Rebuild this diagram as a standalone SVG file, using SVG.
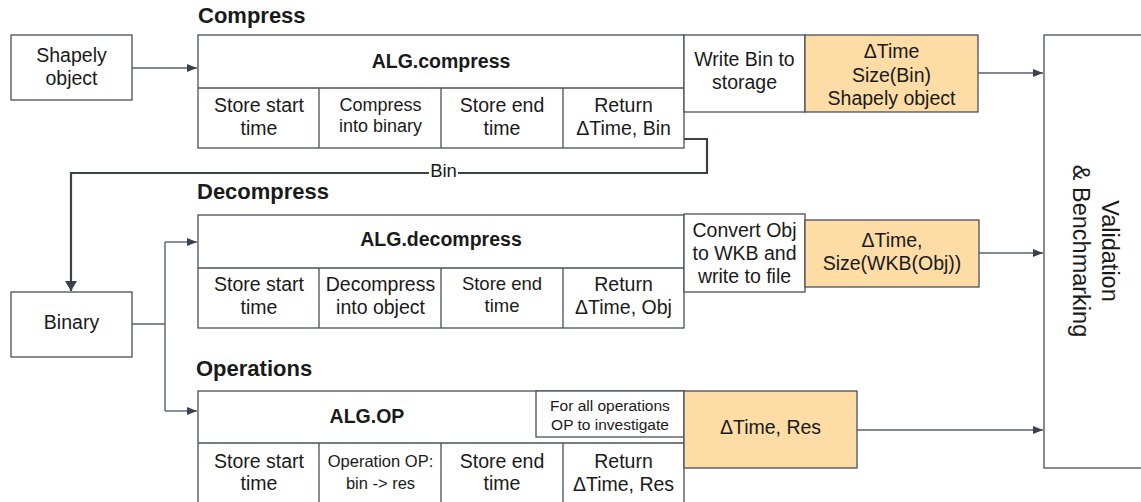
<svg xmlns="http://www.w3.org/2000/svg" width="1141" height="502" viewBox="0 0 1141 502">
  <defs>
    <marker id="arrow" viewBox="0 0 10 8" refX="10" refY="4" markerWidth="10" markerHeight="8" markerUnits="userSpaceOnUse" orient="auto">
      <path d="M0,0 L10,4 L0,8 Z" fill="#3a414a"/>
    </marker>
    <marker id="arrowBig" viewBox="0 0 10 12" refX="10" refY="6" markerWidth="10" markerHeight="12" markerUnits="userSpaceOnUse" orient="auto">
      <path d="M0,0 L10,6 L0,12 Z" fill="#3a414a"/>
    </marker>
  </defs>
  <style>
    text { font-family: "Liberation Sans", Arial, sans-serif; fill: #1a1a1a; text-anchor: middle; }
    .box { fill: #ffffff; stroke: #4a5059; stroke-width: 1.3; }
    .out { fill: #fddca6; stroke: #4a5059; stroke-width: 1.3; }
    .cell { fill: none; stroke: #4a5059; stroke-width: 1.3; }
    .t19 { font-size: 19.5px; }
    .t18 { font-size: 18.5px; }
    .t17 { font-size: 18px; }
    .t16 { font-size: 16.5px; }
    .t15 { font-size: 15.5px; }
    .hdr { font-size: 19.5px; font-weight: bold; }
    .title { font-size: 22px; font-weight: bold; text-anchor: start; }
    .side { font-size: 23.5px; }
    .link { fill: none; stroke: #5a616b; stroke-width: 1.4; }
    .bin { fill: none; stroke: #3a414a; stroke-width: 2.2; }
  </style>
  <rect width="1141" height="502" fill="#ffffff"/>

  <!-- section titles -->
  <g id="titles">
    <text class="title" x="198" y="23">Compress</text>
    <text class="title" x="197" y="199">Decompress</text>
    <text class="title" x="196" y="376">Operations</text>
  </g>

  <!-- input geometry -->
  <g id="shapely">
    <rect class="box" x="11" y="35" width="121" height="65"/>
    <text class="t19" x="71.5" y="62">Shapely</text>
    <text class="t19" x="71.5" y="85">object</text>
  </g>

  <!-- compress stage -->
  <g id="compress">
    <rect class="box" x="198" y="35" width="486" height="113"/>
    <line class="cell" x1="198" y1="88" x2="684" y2="88"/>
    <line class="cell" x1="319" y1="88" x2="319" y2="148"/>
    <line class="cell" x1="441" y1="88" x2="441" y2="148"/>
    <line class="cell" x1="563" y1="88" x2="563" y2="148"/>
    <text class="hdr" x="441" y="68">ALG.compress</text>
    <text class="t19" x="259" y="112">Store start</text>
    <text class="t19" x="259" y="135">time</text>
    <text class="t17" x="380.5" y="111">Compress</text>
    <text class="t17" x="380.5" y="132">into binary</text>
    <text class="t19" x="502" y="112">Store end</text>
    <text class="t19" x="502" y="135">time</text>
    <text class="t19" x="623.5" y="112">Return</text>
    <text class="t19" x="623.5" y="135">ΔTime, Bin</text>
  </g>

  <g id="write-bin">
    <rect class="box" x="684" y="35" width="121" height="77"/>
    <text class="t19" x="744.5" y="66">Write Bin to</text>
    <text class="t19" x="744.5" y="89">storage</text>
  </g>

  <g id="compress-result">
    <rect class="out" x="805" y="35" width="173" height="77"/>
    <text class="t19" x="891.5" y="58">ΔTime</text>
    <text class="t19" x="891.5" y="81.5">Size(Bin)</text>
    <text class="t19" x="891.5" y="105">Shapely object</text>
  </g>

  <!-- decompress stage -->
  <g id="decompress">
    <rect class="box" x="198" y="215" width="486" height="113"/>
    <line class="cell" x1="198" y1="268" x2="684" y2="268"/>
    <line class="cell" x1="319" y1="268" x2="319" y2="328"/>
    <line class="cell" x1="441" y1="268" x2="441" y2="328"/>
    <line class="cell" x1="563" y1="268" x2="563" y2="328"/>
    <text class="hdr" x="441" y="246">ALG.decompress</text>
    <text class="t19" x="259" y="291">Store start</text>
    <text class="t19" x="259" y="314">time</text>
    <text class="t19" x="380.5" y="291">Decompress</text>
    <text class="t19" x="380.5" y="314">into object</text>
    <text class="t18" x="502" y="290">Store end</text>
    <text class="t18" x="502" y="312">time</text>
    <text class="t19" x="623.5" y="291">Return</text>
    <text class="t19" x="623.5" y="314">ΔTime, Obj</text>
  </g>

  <g id="convert-obj">
    <rect class="box" x="684" y="214" width="121" height="78"/>
    <text class="t19" x="744.5" y="237">Convert Obj</text>
    <text class="t19" x="744.5" y="260">to WKB and</text>
    <text class="t19" x="744.5" y="283">write to file</text>
  </g>

  <g id="decompress-result">
    <rect class="out" x="805" y="220" width="174" height="67"/>
    <text class="t19" x="892" y="247">ΔTime,</text>
    <text class="t19" x="892" y="270">Size(WKB(Obj))</text>
  </g>

  <!-- binary input -->
  <g id="binary">
    <rect class="box" x="11" y="292" width="121" height="65"/>
    <text class="t19" x="71.5" y="329">Binary</text>
  </g>

  <!-- operations stage -->
  <g id="operations">
    <rect class="box" x="198" y="391" width="486" height="125"/>
    <line class="cell" x1="198" y1="443" x2="684" y2="443"/>
    <line class="cell" x1="319" y1="443" x2="319" y2="516"/>
    <line class="cell" x1="441" y1="443" x2="441" y2="516"/>
    <line class="cell" x1="563" y1="443" x2="563" y2="516"/>
    <text class="hdr" x="367" y="423">ALG.OP</text>
    <text class="t19" x="259" y="468">Store start</text>
    <text class="t19" x="259" y="490">time</text>
    <text class="t16" x="380.5" y="467">Operation OP:</text>
    <text class="t16" x="380.5" y="489">bin -&gt; res</text>
    <text class="t19" x="502" y="468">Store end</text>
    <text class="t19" x="502" y="490">time</text>
    <text class="t19" x="623.5" y="468">Return</text>
    <text class="t19" x="623.5" y="491">ΔTime, Res</text>
  </g>

  <g id="all-operations">
    <rect class="box" x="536" y="391" width="148" height="46"/>
    <text class="t15" x="610" y="411">For all operations</text>
    <text class="t15" x="610" y="429.5">OP to investigate</text>
  </g>

  <g id="operations-result">
    <rect class="out" x="684" y="391" width="173" height="77"/>
    <text class="t19" x="770.5" y="434">ΔTime, Res</text>
  </g>

  <!-- benchmark sink -->
  <g id="validation">
    <rect class="box" x="1044" y="35" width="110" height="433"/>
    <g transform="translate(1088,251) rotate(90)">
      <text class="side" x="0" y="-14">Validation</text>
      <text class="side" x="0" y="15">&amp; Benchmarking</text>
    </g>
  </g>

  <!-- connectors -->
  <g id="connectors">
    <path class="link" d="M132,68 H197" marker-end="url(#arrow)"/>
    <path class="link" d="M978,73 H1043" marker-end="url(#arrow)"/>
    <path class="link" d="M979,253 H1043" marker-end="url(#arrow)"/>
    <path class="link" d="M857,430 H1043" marker-end="url(#arrow)"/>
    <path class="link" d="M132,324 H165"/>
    <path class="link" d="M165,242 V411"/>
    <path class="link" d="M165,242 H197" marker-end="url(#arrow)"/>
    <path class="link" d="M165,411 H197" marker-end="url(#arrow)"/>
    <path class="bin" d="M684,139 H707 V173 H71 V291" marker-end="url(#arrowBig)"/>
    <rect x="429" y="162" width="29" height="20" fill="#ffffff"/>
    <text class="t18" x="443.5" y="177">Bin</text>
  </g>
</svg>
